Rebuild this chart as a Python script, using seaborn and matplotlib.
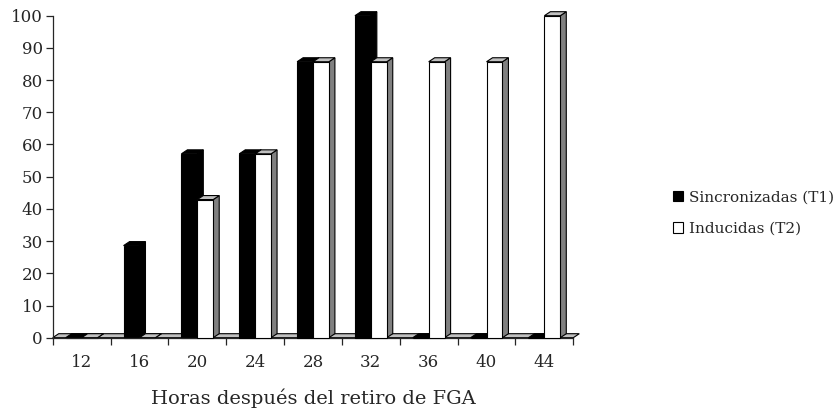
import matplotlib
matplotlib.use("Agg")
import matplotlib.pyplot as plt
from matplotlib.patches import Polygon, Patch
import numpy as np
import pandas as pd
import seaborn as sns

# Hours after FGA removal and percentage of females per treatment
horas = ["12", "16", "20", "24", "28", "32", "36", "40", "44"]
sincronizadas = [0, 28.6, 57.1, 57.1, 85.7, 100, 0, 0, 0]
inducidas = [0, 0, 42.9, 57.1, 85.7, 85.7, 85.7, 85.7, 100]
series = ["Sincronizadas (T1)", "Inducidas (T2)"]
y_ticks = list(range(0, 101, 10))

df = pd.DataFrame({
    "hora": horas * 2,
    "valor": sincronizadas + inducidas,
    "grupo": [series[0]] * len(horas) + [series[1]] * len(horas),
})

sns.set_style("white")
plt.rcParams["font.family"] = ["DejaVu Serif"]
plt.rcParams["font.size"] = 12

W, H = 838, 411
fig = plt.figure(figsize=(W / 100, H / 100), dpi=100)
x0_px, x1_px, y0_px, y1_px = 52.7, 573.3, 337.7, 15.7
ax = fig.add_axes([x0_px / W, (H - y0_px) / H, (x1_px - x0_px) / W, (y0_px - y1_px) / H])

sns.barplot(data=df, x="hora", y="valor", hue="grupo", hue_order=series,
            palette=["black", "white"], width=0.55, saturation=1,
            edgecolor="black", linewidth=0.8, ax=ax, legend=False)

ax.set_xlim(-0.5, len(horas) - 0.5)
ax.set_ylim(0, 100)

# depth of the pseudo-3D extrusion, in data units
dx = 6 * len(horas) / (x1_px - x0_px)
dy = 4 * 100 / (y0_px - y1_px)

# floor slab
xa, xb = -0.5, len(horas) - 0.5
floor = Polygon([(xa, 0), (xb, 0), (xb + dx, dy), (xa + dx, dy)], closed=True,
                facecolor="#c0c0c0", edgecolor="black", linewidth=0.8,
                zorder=1.0, clip_on=False)
ax.add_patch(floor)

# order bars left to right so each front face hides the neighbour's side
bars = sorted(ax.patches[:-1], key=lambda p: p.get_x())
for k, bar in enumerate(bars):
    x = bar.get_x()
    w = bar.get_width()
    h = bar.get_height()
    is_black = np.allclose(bar.get_facecolor()[:3], (0, 0, 0))
    top_c = "black" if is_black else "#c0c0c0"
    side_c = "black" if is_black else "#808080"
    z = 2 + k * 0.1
    bar.set_zorder(z + 0.05)
    bar.set_clip_on(False)
    top = Polygon([(x, h), (x + w, h), (x + w + dx, h + dy), (x + dx, h + dy)],
                  closed=True, facecolor=top_c, edgecolor="black",
                  linewidth=0.8, zorder=z, clip_on=False)
    side = Polygon([(x + w, 0), (x + w + dx, dy), (x + w + dx, h + dy), (x + w, h)],
                   closed=True, facecolor=side_c, edgecolor="black",
                   linewidth=0.8, zorder=z, clip_on=False)
    ax.add_patch(side)
    ax.add_patch(top)

# axes styling
for s in ["top", "right"]:
    ax.spines[s].set_visible(False)
ax.spines["left"].set_linewidth(0.9)
ax.spines["bottom"].set_linewidth(0.9)
ax.spines["left"].set_zorder(5)
ax.set_yticks(y_ticks)
ax.set_yticklabels([str(v) for v in y_ticks])
ax.tick_params(axis="y", direction="out", length=5, width=0.9, pad=2,
               labelsize=12, left=True)
ax.set_xticks(range(len(horas)))
ax.set_xticklabels(horas)
ax.set_xticks(np.arange(-0.5, len(horas), 1.0), minor=True)
ax.tick_params(axis="x", which="major", length=0, pad=12, labelsize=12)
ax.tick_params(axis="x", which="minor", direction="out", length=5, width=0.9,
               bottom=True)
ax.set_xlabel("Horas después del retiro de FGA", fontsize=14, labelpad=12)
ax.set_ylabel("")

handles = [Patch(facecolor="black", edgecolor="black", linewidth=0.8),
           Patch(facecolor="white", edgecolor="black", linewidth=0.8)]
fig.legend(handles, series, loc="center left",
           bbox_to_anchor=(659 / W, 1 - 213 / H), frameon=False,
           handlelength=0.7, handleheight=0.7, handletextpad=0.35,
           labelspacing=1.15, fontsize=11)

fig.savefig("out.png", dpi=100, facecolor="white")
